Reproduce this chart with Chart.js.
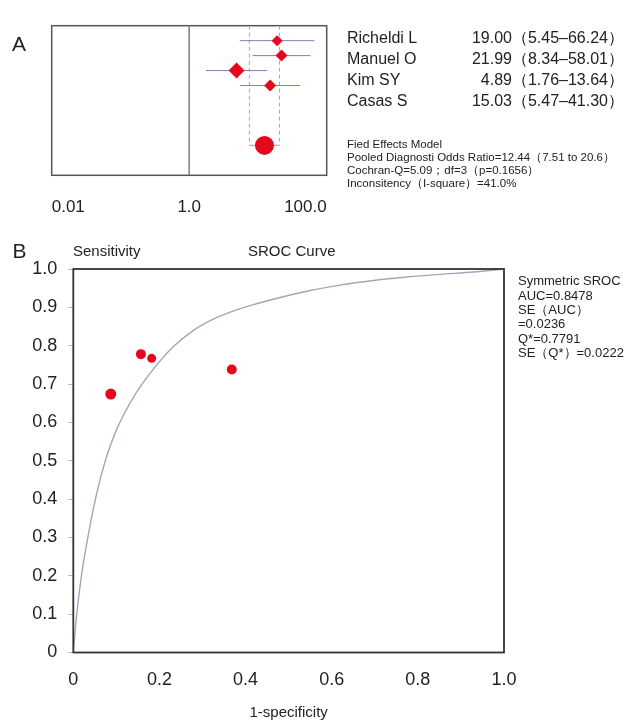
<!DOCTYPE html>
<html>
<head>
<meta charset="utf-8">
<script src="https://cdn.jsdelivr.net/npm/chart.js@4.4.1/dist/chart.umd.min.js"></script>
<style>
  html, body { margin: 0; padding: 0; background: #fff; }
  #wrap { position: relative; width: 626px; height: 720px; overflow: hidden; }
  canvas { position: absolute; left: 0; }
  #forest { top: 0; width: 626px; height: 220px; }
  #sroc { top: 230px; width: 626px; height: 490px; }
</style>
</head>
<body>
<div id="wrap">
  <canvas id="forest" width="626" height="220"></canvas>
  <canvas id="sroc" width="626" height="490"></canvas>
</div>
<script>
// --- Panel A: forest plot of diagnostic odds ratios ---
const studies = ['Richeldi L', 'Manuel O', 'Kim SY', 'Casas S'];
const dor = [19.00, 21.99, 4.89, 15.03];
const dorLow = [5.45, 8.34, 1.76, 5.47];
const dorHigh = [66.24, 58.01, 13.64, 41.30];
const pooled = [12.44, 7.51, 20.6]; // estimate, lower, upper
const forestTicks = [0.01, 1, 100];
const forestTickLabels = ['0.01', '1.0', '100.0'];
const forestStats = [
  'Fied Effects Model',
  'Pooled Diagnosti Odds Ratio=12.44（7.51 to 20.6）',
  'Cochran-Q=5.09；df=3（p=0.1656）',
  'Inconsitency（I-square）=41.0%'
];

// --- Panel B: SROC curve ---
const studyFpr = [0.087, 0.157, 0.182, 0.368];
const studySens = [0.674, 0.778, 0.767, 0.738];
const curveFpr = [0, 0.008, 0.0195, 0.035, 0.046, 0.062, 0.078, 0.097, 0.116, 0.147, 0.186, 0.232,
  0.279, 0.325, 0.371, 0.418, 0.464, 0.542, 0.619, 0.697, 0.774, 0.851, 0.929, 1.0];
const curveSens = [0, 0.100, 0.205, 0.308, 0.372, 0.450, 0.513, 0.572, 0.618, 0.679, 0.739, 0.797,
  0.840, 0.869, 0.890, 0.907, 0.921, 0.942, 0.958, 0.970, 0.979, 0.986, 0.992, 1.0];
const srocTicks = [0, 0.2, 0.4, 0.6, 0.8, 1.0];
const srocStats = [
  'Symmetric SROC',
  'AUC=0.8478',
  'SE（AUC）',
  '=0.0236',
  'Q*=0.7791',
  'SE（Q*）=0.0222'
];

const FONT = "'Liberation Sans', Arial, Helvetica, sans-serif";
const RED = '#e5081c';
Chart.defaults.font.family = FONT;
Chart.defaults.color = '#222';

function fmt(v) {
  return Math.abs(v) < 1e-9 ? '0' : v.toFixed(1);
}

// marker sizes in panel A (study weight)
const diamondSize = [5.5, 6, 8, 6];
const POOLED_ROW = 8;

// CI whiskers, one line per study
const forestSets = studies.map((s, i) => ({
  label: s + ' CI',
  data: [{ x: dorLow[i], y: i + 1 }, { x: dorHigh[i], y: i + 1 }],
  showLine: true,
  borderColor: '#7f7fb2',
  borderWidth: 1,
  pointRadius: 0,
  order: 5
}));

forestSets.push(
  {
    label: 'no effect',
    data: [{ x: 1, y: 0 }, { x: 1, y: 10 }],
    showLine: true, borderColor: '#8a8a8a', borderWidth: 1, pointRadius: 0, order: 6
  },
  {
    label: 'pooled low',
    data: [{ x: pooled[1], y: 0 }, { x: pooled[1], y: POOLED_ROW }],
    showLine: true, borderColor: '#c79ab8', borderWidth: 1, borderDash: [4, 3], pointRadius: 0, order: 6
  },
  {
    label: 'pooled high',
    data: [{ x: pooled[2], y: 0 }, { x: pooled[2], y: POOLED_ROW }],
    showLine: true, borderColor: '#c79ab8', borderWidth: 1, borderDash: [4, 3], pointRadius: 0, order: 6
  },
  {
    label: 'pooled CI',
    data: [{ x: pooled[1], y: POOLED_ROW }, { x: pooled[2], y: POOLED_ROW }],
    showLine: true, borderColor: '#e79a9a', borderWidth: 1.2, pointRadius: 0, order: 4
  },
  {
    label: 'DOR',
    data: studies.map((s, i) => ({ x: dor[i], y: i + 1 })),
    pointStyle: 'rectRot',
    pointRadius: diamondSize,
    backgroundColor: RED,
    borderWidth: 0,
    order: 1
  },
  {
    label: 'Pooled',
    data: [{ x: pooled[0], y: POOLED_ROW }],
    pointStyle: 'circle',
    pointRadius: 9.5,
    backgroundColor: RED,
    borderWidth: 0,
    order: 0
  }
);

function drawText(ctx, items) {
  items.forEach(t => {
    ctx.font = t.size + 'px ' + FONT;
    ctx.fillStyle = '#222';
    ctx.textAlign = t.align || 'left';
    ctx.textBaseline = 'middle';
    ctx.fillText(t.text, t.x, t.y);
  });
}

const forestDecor = {
  id: 'forestDecor',
  beforeDatasetsDraw(chart) {
    const { ctx, chartArea: a } = chart;
    ctx.save();
    ctx.strokeStyle = '#555';
    ctx.lineWidth = 1.5;
    ctx.strokeRect(a.left, a.top, a.right - a.left, a.bottom - a.top);
    ctx.restore();
  },
  afterDraw(chart) {
    const ctx = chart.ctx;
    ctx.save();
    const items = [{ text: 'A', x: 12, y: 45, size: 21 }];
    studies.forEach((s, i) => {
      const y = 38.7 + 20.8 * i;
      items.push({ text: s, x: 347, y: y, size: 16 });
      items.push({
        text: dor[i].toFixed(2) + '（' + dorLow[i].toFixed(2) + '–' + dorHigh[i].toFixed(2) + '）',
        x: 624, y: y, size: 16, align: 'right'
      });
    });
    forestStats.forEach((s, i) => {
      items.push({ text: s, x: 347, y: 145 + 12.8 * i, size: 11.5 });
    });
    drawText(ctx, items);
    ctx.restore();
  }
};

new Chart(document.getElementById('forest'), {
  type: 'scatter',
  data: { datasets: forestSets },
  options: {
    responsive: false,
    animation: false,
    devicePixelRatio: 1,
    layout: { padding: { left: 51.7, right: 299.3, top: 25.7, bottom: 0 } },
    plugins: { legend: { display: false }, tooltip: { enabled: false } },
    scales: {
      x: {
        type: 'logarithmic',
        min: 0.01,
        max: 100,
        afterBuildTicks: s => { s.ticks = forestTicks.map(v => ({ value: v })); },
        afterFit: s => { s.height = 44.7; },
        grid: { display: false, drawTicks: false },
        border: { display: false },
        ticks: {
          align: 'inner',
          padding: 22,
          maxRotation: 0,
          autoSkip: false,
          font: { size: 17 },
          color: '#222',
          callback: v => forestTickLabels[forestTicks.indexOf(v)]
        }
      },
      y: { type: 'linear', min: 0, max: 10, reverse: true, display: false }
    }
  },
  plugins: [forestDecor]
});

const srocDecor = {
  id: 'srocDecor',
  afterDatasetsDraw(chart) {
    const { ctx, chartArea: a } = chart;
    ctx.save();
    ctx.strokeStyle = '#333';
    ctx.lineWidth = 1.8;
    ctx.strokeRect(a.left, a.top, a.right - a.left, a.bottom - a.top);
    ctx.restore();
  },
  afterDraw(chart) {
    const ctx = chart.ctx;
    ctx.save();
    const items = [
      { text: 'B', x: 12.5, y: 22, size: 21 },
      { text: 'Sensitivity', x: 73, y: 22, size: 15 },
      { text: 'SROC Curve', x: 248, y: 22, size: 15 }
    ];
    srocStats.forEach((s, i) => {
      items.push({ text: s, x: 518, y: 51.7 + 14.4 * i, size: 13 });
    });
    drawText(ctx, items);
    ctx.restore();
  }
};

new Chart(document.getElementById('sroc'), {
  type: 'scatter',
  data: {
    datasets: [
      {
        label: 'Studies',
        data: studyFpr.map((x, i) => ({ x: x, y: studySens[i] })),
        pointRadius: [5.5, 5, 4.5, 5],
        backgroundColor: RED,
        borderWidth: 0,
        order: 0
      },
      {
        label: 'SROC',
        data: curveFpr.map((x, i) => ({ x: x, y: curveSens[i] })),
        showLine: true,
        cubicInterpolationMode: 'monotone',
        borderColor: '#a2a6bb',
        borderWidth: 1.4,
        pointRadius: 0,
        order: 1
      }
    ]
  },
  options: {
    responsive: false,
    animation: false,
    devicePixelRatio: 1,
    layout: { padding: { left: 0, right: 122, top: 39, bottom: 0 } },
    plugins: { legend: { display: false }, tooltip: { enabled: false } },
    scales: {
      x: {
        type: 'linear',
        min: 0,
        max: 1,
        afterBuildTicks: s => { s.ticks = srocTicks.map(v => ({ value: v })); },
        afterFit: s => { s.height = 67.5; },
        grid: { display: false, drawTicks: false },
        border: { display: false },
        ticks: { padding: 16.7, maxRotation: 0, font: { size: 18 }, color: '#222', callback: v => fmt(v) },
        title: {
          display: true,
          text: '1-specificity',
          font: { size: 15, lineHeight: 1 },
          color: '#222',
          padding: { top: 0, bottom: 0 }
        }
      },
      y: {
        type: 'linear',
        min: 0,
        max: 1,
        afterFit: s => { s.width = 73.3; },
        grid: { drawOnChartArea: false, tickLength: 5, color: '#b5b5b5' },
        border: { display: false },
        ticks: { stepSize: 0.1, padding: 11, font: { size: 18 }, color: '#222', callback: v => fmt(v) }
      }
    }
  },
  plugins: [srocDecor]
});
</script>
</body>
</html>
